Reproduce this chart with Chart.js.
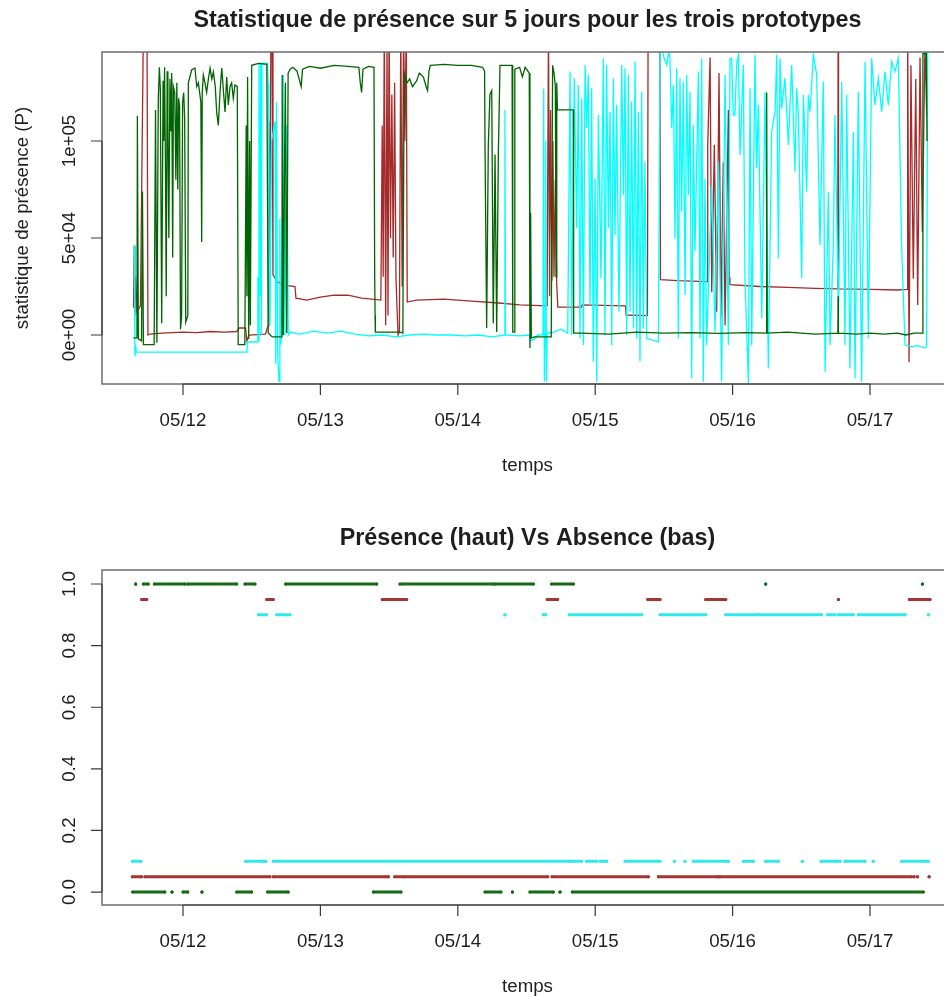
<!DOCTYPE html>
<html lang="fr">
<head>
  <meta charset="UTF-8" />
  <title>Statistique de présence</title>
  <script src="https://cdn.jsdelivr.net/npm/chart.js"></script>
  <style>
    html, body { margin: 0; padding: 0; background: #fff; overflow: hidden; }
    #page { position: relative; width: 944px; height: 996px; overflow: hidden; }
    .panel { position: absolute; left: 0; width: 960px; height: 498px; }
    #top { top: 0; }
    #bottom { top: 498px; }
  </style>
</head>
<body>
<div id="page">
  <div class="panel" id="top"><canvas id="statChart"></canvas></div>
  <div class="panel" id="bottom"><canvas id="presChart"></canvas></div>
</div>

<script>
  // time axis: day of month (May), decimal
  const dayTicks = [12, 13, 14, 15, 16, 17];
  const dayLabels = ['05/12', '05/13', '05/14', '05/15', '05/16', '05/17'];

  const statTicks = [0, 50000, 100000];
  const statLabels = ['0e+00', '5e+04', '1e+05'];
  const presTicks = [0, 0.2, 0.4, 0.6, 0.8, 1.0];
  const presLabels = ['0.0', '0.2', '0.4', '0.6', '0.8', '1.0'];

  // prototype 1 (brown)
  const brownT = [11.640, 11.645, 11.650, 11.655, 11.665, 11.690, 11.700, 11.712, 11.738, 11.745, 11.760, 11.850,
    12.000, 12.100, 12.200, 12.300, 12.390, 12.410, 12.455, 12.465, 12.480, 12.600, 12.620, 12.625, 12.630, 12.640,
    12.648, 12.655, 12.680, 12.720, 12.815, 12.822, 12.900, 13.000, 13.100, 13.200, 13.300, 13.440, 13.450, 13.457,
    13.465, 13.475, 13.485, 13.492, 13.500, 13.510, 13.520, 13.530, 13.540, 13.550, 13.565, 13.575, 13.585, 13.595,
    13.605, 13.615, 13.625, 13.632, 13.700, 13.900, 14.100, 14.300, 14.450, 14.650, 14.660, 14.668, 14.675, 14.685,
    14.692, 14.700, 14.710, 14.720, 14.728, 14.900, 14.905, 15.220, 15.225, 15.380, 15.385, 15.470, 15.475, 15.600,
    15.815, 15.819, 15.836, 15.848, 15.867, 15.884, 15.901, 15.915, 15.932, 15.945, 15.969, 15.975, 15.980, 16.200,
    16.400, 16.600, 16.765, 16.768, 16.771, 17.000, 17.200, 17.270, 17.274, 17.284, 17.298, 17.315, 17.333, 17.347,
    17.364, 17.381, 17.400, 17.413];
  const brownP = [14000, 46000, 10000, 30000, 12000, 15000, 80000, 160000, 160000, 0, 500, 1000,
    1500, 1200, 1800, 1500, 1800, 3600, 3600, -3000, 0, 500, 5000, 110000, 20000, 160000,
    160000, 31000, 28000, 25800, 25000, 19000, 18000, 19500, 20500, 20500, 19000, 18000, 108000, 30000,
    160000, 5000, 150000, 10000, 160000, 50000, 124000, 40000, 130000, 29000, 0, 2000, 160000, 25000,
    160000, 100000, 160000, 17000, 18000, 18500, 17500, 16500, 15500, 15000, 160000, 20000, 116000, 28000,
    100000, 30000, 80000, 26000, 14400, 14400, 15500, 15000, 10300, 10000, 160000, 160000, 28500, 28000,
    27500, 98000, 143000, 22000, 98000, 12000, 135000, 9000, 89000, 5000, 116000, 30000, 26000, 25000,
    24500, 24000, 23800, 160000, 23800, 23500, 23200, 23500, 160000, -14000, 139000, 29000, 132000, 15500,
    143000, 53000, 150000, 113000];

  // prototype 2 (dark green)
  const greenT = [11.638, 11.665, 11.668, 11.675, 11.698, 11.705, 11.712, 11.790, 11.800, 11.810, 11.820, 11.828,
    11.835, 11.845, 11.855, 11.860, 11.866, 11.872, 11.878, 11.885, 11.890, 11.897, 11.905, 11.912, 11.918, 11.925,
    11.930, 11.940, 11.948, 11.955, 11.962, 11.968, 11.975, 11.982, 11.990, 11.997, 12.005, 12.012, 12.020, 12.035,
    12.039, 12.063, 12.087, 12.100, 12.112, 12.130, 12.136, 12.140, 12.148, 12.160, 12.172, 12.185, 12.197, 12.210,
    12.221, 12.235, 12.245, 12.257, 12.270, 12.282, 12.295, 12.306, 12.318, 12.330, 12.342, 12.354, 12.366, 12.378,
    12.395, 12.402, 12.450, 12.460, 12.465, 12.470, 12.478, 12.485, 12.490, 12.500, 12.550, 12.610, 12.620, 12.650,
    12.720, 12.722, 12.730, 12.738, 12.745, 12.755, 12.765, 12.780, 12.800, 12.830, 12.860, 12.870, 12.920, 13.000,
    13.100, 13.200, 13.280, 13.290, 13.300, 13.310, 13.350, 13.390, 13.395, 13.398, 13.400, 13.580, 13.600, 13.610,
    13.630, 13.650, 13.670, 13.700, 13.720, 13.750, 13.770, 13.780, 13.790, 13.800, 13.900, 14.000, 14.100, 14.180,
    14.195, 14.198, 14.210, 14.222, 14.234, 14.247, 14.258, 14.271, 14.283, 14.295, 14.307, 14.395, 14.400, 14.410,
    14.415, 14.450, 14.470, 14.490, 14.510, 14.520, 14.525, 14.530, 14.535, 14.560, 14.680, 14.690, 14.700, 14.710,
    14.715, 14.720, 14.725, 14.840, 14.843, 14.900, 15.100, 15.300, 15.500, 15.700, 15.900, 16.100, 16.245, 16.248,
    16.252, 16.400, 16.600, 16.766, 16.768, 16.770, 16.900, 17.000, 17.100, 17.200, 17.260, 17.320, 17.380, 17.385,
    17.410, 17.415];
  const greenP = [-1500, -1500, 113000, -2000, -3000, 74000, -5000, -5000, 116000, -4000, 121000, 138000,
    127000, 6000, 131000, 100000, 138000, 90000, 20000, 136000, 110000, 50000, 132000, 105000, 135000, 40000,
    128000, 125000, 80000, 130000, 75000, 122000, 118000, 3000, 10000, 120000, 125000, 112000, 6700, 10000,
    130000, 136600, 137600, 128000, 130000, 120000, 48000, 125000, 134000, 130000, 125000, 132000, 137600, 132000,
    135600, 128000, 115000, 108000, 126000, 137600, 125000, 115000, 133000, 118600, 128000, 130000, 122000, 128900,
    128000, -5000, -5000, 108000, 20000, 133000, -2000, 100000, 5000, 139000, 140000, 139500, 1000, -1000,
    -1000, 134000, 0, 80000, 130000, 1000, 135000, 137000, 138000, 136000, 128000, 137000, 138500, 137500,
    139000, 138500, 138000, 130000, 125000, 137000, 138500, 138000, 30000, 10000, 1500, 1500, 1000, 135000,
    130000, 132000, 128000, 131000, 135000, 133000, 128000, 126000, 136000, 139000, 139500, 139000, 139000, 138000,
    136000, 98000, 3600, 98000, 124000, 126000, 6000, 93000, 1500, 93000, 139000, 139000, 1500, 1500,
    137000, 138000, 133000, 138000, 136000, 135000, -6700, 63000, -1500, -1000, -1000, 139000, 135000, 128000,
    30000, 130000, 116000, 116000, 1000, 1000, 500, 1500, 1000, 1200, 800, 1200, 1000, 125000,
    1000, 1500, 500, 1000, 20000, 1000, 500, 1000, 500, 1000, 0, 1000, 1000, 145000,
    145000, 100000];

  // prototype 3 (cyan)
  const cyanT = [11.645, 11.650, 11.655, 11.660, 12.000, 12.465, 12.468, 12.540, 12.545, 12.548, 12.553, 12.560,
    12.565, 12.570, 12.575, 12.615, 12.620, 12.625, 12.633, 12.645, 12.670, 12.675, 12.680, 12.689, 12.699, 12.705,
    12.711, 12.720, 12.730, 12.742, 12.755, 12.766, 12.780, 12.850, 12.950, 13.050, 13.150, 13.250, 13.350, 13.450,
    13.550, 13.650, 13.750, 13.850, 13.950, 14.050, 14.150, 14.250, 14.340, 14.343, 14.347, 14.450, 14.520, 14.530,
    14.560, 14.580, 14.620, 14.625, 14.630, 14.635, 14.640, 14.645, 14.650, 14.700, 14.750, 14.800,
    14.817, 14.829, 14.848, 14.865, 14.877, 14.889, 14.902, 14.914, 14.926, 14.938, 14.950, 14.962, 14.974, 14.986,
    14.999, 15.011, 15.023, 15.042, 15.059, 15.071, 15.083, 15.096, 15.108, 15.120, 15.132, 15.144, 15.156, 15.173,
    15.193, 15.205, 15.217, 15.229, 15.241, 15.253, 15.265, 15.278, 15.290, 15.302, 15.314, 15.326, 15.338, 15.350,
    15.362, 15.375, 15.460, 15.472, 15.490, 15.500, 15.520, 15.535, 15.544, 15.557, 15.569, 15.581, 15.593, 15.605,
    15.617, 15.629, 15.641, 15.654, 15.666, 15.678, 15.690, 15.702, 15.714, 15.726, 15.751, 15.763, 15.775, 15.787,
    15.799, 15.811, 15.848, 15.872, 15.896, 15.920, 15.945, 15.969, 15.981, 15.993, 16.005, 16.017, 16.030, 16.042,
    16.054, 16.078, 16.090, 16.115, 16.127, 16.139, 16.163, 16.175, 16.187, 16.212, 16.236, 16.260, 16.284, 16.309,
    16.321, 16.333, 16.345, 16.357, 16.381, 16.406, 16.430, 16.454, 16.466, 16.478, 16.503, 16.515, 16.539, 16.551,
    16.563, 16.588, 16.612, 16.636, 16.660, 16.673, 16.697, 16.709, 16.733, 16.745, 16.770, 16.794, 16.818, 16.830,
    16.854, 16.879, 16.891, 16.915, 16.939, 16.964, 16.988, 17.012, 17.036, 17.061, 17.085, 17.109, 17.133, 17.158,
    17.182, 17.206, 17.230, 17.255, 17.300, 17.350, 17.400, 17.412, 17.420];
  const cyanP = [46000, -11000, -5000, -8800, -8800, -8800, -3600, -3600, 30000, -3000, 140000, 20000,
    140500, 0, 140000, 140000, 130000, 60000, 5000, 100000, 110000, -15000, 120000, -10000, -24000, 60000,
    -5000, 2000, 134000, 0, 108000, 0, 1500, 500, 2000, 1000, 2000, 500, -500, 0,
    -1000, 0, 500, 0, 0, -500, 0, -1000, 0, 116000, 0, -500, 0, -3000,
    -2000, 0, 0, 127000, -24000, 0, 100000, -24000, 1000, 1500, 3000, 1000,
    135800, 0, 132300, 55000, 128900, -1700, 122000, -5200, 139200, 106600, 134100, 15500, 127200, -13700,
    80700, -24100, 113400, 29200, 142600, 0, 139200, 55000, 115100, -5200, 132300, 51500, 118600, 12000,
    139200, 72200, 137500, 0, 134100, 12000, 120300, 3400, 140900, -1700, 115100, -13700, 125400, 3400,
    89300, -1700, -3500, 150000, 146000, 143000, 139200, 146000, 142600, 106600, 128900, 49800, 137500, -1700,
    132300, 63600, 130600, 20600, 134100, 72200, 125400, -22300, 108300, 43000, 135800, -1700, 142600, -24100,
    80700, -5200, 77300, 1700, 89300, -24100, 134100, -5200, 142600, 142600, 113400, 113400, 140000, 144300,
    92800, 139200, 29200, -25000, 127200, -5200, 144300, 85900, 118600, 8600, 125400, -17200, 104800, 115100,
    144300, 39500, 142600, 116800, 132300, 98000, 139200, 84200, 127200, 115100, 29200, 123700, 73900, 123700,
    115100, 144300, 134100, 46400, 130600, -18900, 73900, -5200, 46400, 113400, 12000, 130600, -5200, 123700,
    -17200, 104800, -22300, 125400, -24100, 140900, -1700, 142600, 118600, 132300, 115100, 135800, 118600, 140900,
    135800, 142600, 46400, -5200, -6000, -5500, -6700, -6000, 146000];

  // presence (upper band) / absence (lower band) periods, [start, end] in days
  const greenHigh = [[11.656, 11.656], [11.711, 11.747], [11.791, 12.015], [12.034, 12.391], [12.451, 12.524],
    [12.747, 13.410], [13.579, 14.258], [14.271, 14.550], [14.683, 14.841], [16.241, 16.241], [17.381, 17.381]];
  const brownHigh = [[11.699, 11.736], [12.609, 12.657], [13.450, 13.628], [14.651, 14.727], [15.382, 15.472],
    [15.804, 15.860], [15.875, 15.950], [16.770, 16.770], [17.286, 17.437]];
  const cyanHigh = [[12.548, 12.609], [12.682, 12.779], [14.343, 14.343], [14.622, 14.640], [14.812, 15.230],
    [15.245, 15.338], [15.472, 15.720], [15.735, 15.804], [15.950, 16.180], [16.190, 16.648], [16.692, 16.745],
    [16.770, 16.878], [16.915, 17.255], [17.424, 17.424]];
  const cyanLow = [[11.631, 11.694], [12.456, 12.584], [12.602, 12.602], [12.657, 14.817], [14.829, 14.902],
    [14.938, 15.011], [15.035, 15.084], [15.217, 15.472], [15.576, 15.576], [15.653, 15.653], [15.714, 15.969],
    [16.078, 16.151], [16.241, 16.333], [16.507, 16.507], [16.643, 16.782], [16.818, 16.964], [17.024, 17.024],
    [17.231, 17.424]];
  const brownLow = [[11.631, 11.699], [11.723, 12.633], [12.657, 13.470], [13.485, 13.495], [13.540, 13.600],
    [13.616, 14.655], [14.685, 15.387], [15.459, 15.885], [15.900, 15.900], [15.915, 17.302], [17.320, 17.320],
    [17.345, 17.345], [17.430, 17.430]];
  const greenLow = [[11.634, 11.868], [11.920, 11.920], [12.000, 12.035], [12.138, 12.138], [12.391, 12.500],
    [12.616, 12.766], [13.385, 13.587], [14.198, 14.314], [14.397, 14.397], [14.525, 14.695], [14.744, 14.744],
    [14.833, 17.388]];

  const BROWN = '#a52a2a', GREEN = '#006400', CYAN = '#00ffff';
  const FONT = '"Liberation Sans", Arial, Helvetica, sans-serif';

  const series = (ts, vs) => ts.map((t, i) => ({ x: t, y: vs[i] }));
  // each period becomes a short segment, periods separated by a gap
  const periods = (list, level) => list.flatMap(([a, b]) => [
    { x: a, y: level }, { x: b, y: level }, { x: b, y: null }
  ]);

  // base-graphics style frame: box, outward ticks, rotated y labels, titles
  function rFrame(o) {
    return {
      id: 'rFrame',
      afterDatasetsDraw(chart) {
        const { ctx, chartArea: a, scales: { x, y } } = chart;
        ctx.save();
        ctx.strokeStyle = '#6e6e6e';
        ctx.lineWidth = 1.5;
        ctx.strokeRect(a.left, a.top, a.right - a.left, a.bottom - a.top);

        ctx.strokeStyle = '#3a3a3a';
        ctx.lineWidth = 1.2;
        const xs = dayTicks.map(v => x.getPixelForValue(v));
        const ys = o.yTicks.map(v => y.getPixelForValue(v));
        ctx.beginPath();
        ctx.moveTo(xs[0], a.bottom);
        ctx.lineTo(xs[xs.length - 1], a.bottom);
        xs.forEach(px => { ctx.moveTo(px, a.bottom); ctx.lineTo(px, a.bottom + 11); });
        ctx.moveTo(a.left, ys[0]);
        ctx.lineTo(a.left, ys[ys.length - 1]);
        ys.forEach(py => { ctx.moveTo(a.left, py); ctx.lineTo(a.left - 11, py); });
        ctx.stroke();

        ctx.fillStyle = '#1e1e1e';
        ctx.font = '18.7px ' + FONT;
        ctx.textAlign = 'center';
        ctx.textBaseline = 'alphabetic';
        xs.forEach((px, i) => ctx.fillText(dayLabels[i], px, a.bottom + 42));
        ctx.fillText('temps', (a.left + a.right) / 2, a.bottom + 87);

        ys.forEach((py, i) => {
          ctx.save();
          ctx.translate(75, py);
          ctx.rotate(-Math.PI / 2);
          ctx.fillText(o.yLabels[i], 0, 0);
          ctx.restore();
        });
        if (o.yTitle) {
          ctx.save();
          ctx.translate(28, (a.top + a.bottom) / 2);
          ctx.rotate(-Math.PI / 2);
          ctx.fillText(o.yTitle, 0, 0);
          ctx.restore();
        }

        ctx.font = 'bold 23.3px ' + FONT;
        ctx.fillText(o.title, (a.left + a.right) / 2, a.top - 25);
        ctx.restore();
      }
    };
  }

  const baseOptions = (yMin, yMax, padding) => ({
    responsive: true,
    maintainAspectRatio: false,
    animation: false,
    events: [],
    layout: { padding },
    plugins: { legend: { display: false }, tooltip: { enabled: false } },
    scales: {
      x: { type: 'linear', min: 11.4105, max: 17.604, display: false },
      y: { type: 'linear', min: yMin, max: yMax, display: false }
    }
  });

  const lineDs = (data, color) => ({
    data, borderColor: color, borderWidth: 1.3, pointRadius: 0, tension: 0, fill: false
  });

  new Chart(document.getElementById('statChart'), {
    type: 'line',
    data: {
      datasets: [
        lineDs(series(greenT, greenP), GREEN),
        lineDs(series(cyanT, cyanP), CYAN),
        lineDs(series(brownT, brownP), BROWN)
      ]
    },
    options: baseOptions(-25258, 145876, { left: 102, right: 7, top: 52, bottom: 114 }),
    plugins: [rFrame({
      title: 'Statistique de présence sur 5 jours pour les trois prototypes',
      yTicks: statTicks, yLabels: statLabels,
      yTitle: 'statistique de présence (P)'
    })]
  });

  const dotDs = (data, color) => ({
    data, borderColor: color, backgroundColor: color, borderWidth: 3, borderCapStyle: 'round',
    pointRadius: 1.5, pointBorderWidth: 0, pointBackgroundColor: color, spanGaps: false, fill: false
  });

  new Chart(document.getElementById('presChart'), {
    type: 'line',
    data: {
      datasets: [
        dotDs(periods(greenHigh, 1.0), '#156b15'),
        dotDs(periods(brownHigh, 0.95), '#a53535'),
        dotDs(periods(cyanHigh, 0.9), '#30eaea'),
        dotDs(periods(cyanLow, 0.1), '#30eaea'),
        dotDs(periods(brownLow, 0.05), '#a53535'),
        dotDs(periods(greenLow, 0.0), '#156b15')
      ]
    },
    options: baseOptions(-0.042, 1.0455, { left: 102, right: 7, top: 72, bottom: 91 }),
    plugins: [rFrame({
      title: 'Présence (haut) Vs Absence (bas)',
      yTicks: presTicks, yLabels: presLabels
    })]
  });
</script>
</body>
</html>
